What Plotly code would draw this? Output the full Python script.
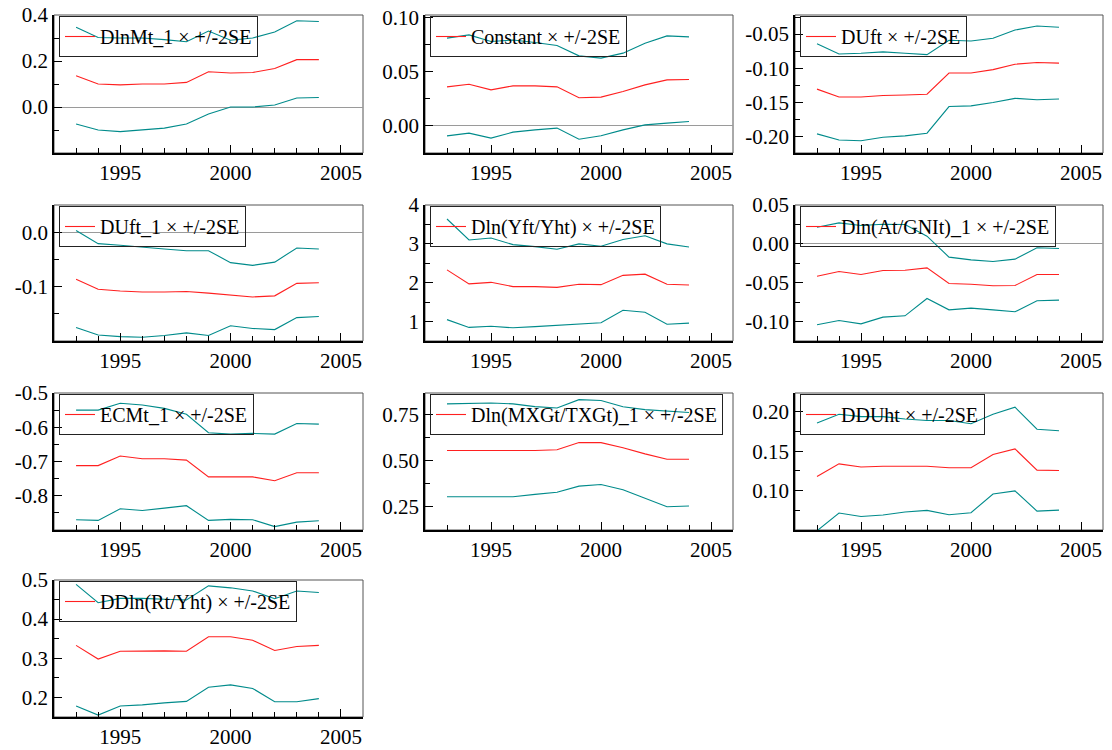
import plotly.graph_objects as go

# recursive coefficient estimates, 1993-2004, with +/-2SE bands
years = list(range(1993, 2005))

dlnmt1_est = [0.136, 0.100, 0.096, 0.100, 0.100, 0.107, 0.153, 0.148, 0.150, 0.167, 0.206, 0.206]
dlnmt1_hi = [0.347, 0.302, 0.300, 0.300, 0.293, 0.284, 0.330, 0.290, 0.300, 0.326, 0.375, 0.372]
dlnmt1_lo = [-0.074, -0.100, -0.107, -0.100, -0.092, -0.074, -0.030, 0.000, 0.000, 0.009, 0.039, 0.041]

const_est = [0.0359, 0.0383, 0.0331, 0.0368, 0.0368, 0.0359, 0.0258, 0.0264, 0.0316, 0.0377, 0.0423, 0.0426]
const_hi = [0.0807, 0.0837, 0.0776, 0.0790, 0.0767, 0.0740, 0.0644, 0.0623, 0.0669, 0.0760, 0.0828, 0.0819]
const_lo = [-0.0092, -0.0067, -0.0113, -0.0058, -0.0037, -0.0021, -0.0123, -0.0092, -0.0037, 0.0009, 0.0025, 0.0040]

duft_est = [-0.1305, -0.142, -0.142, -0.1398, -0.139, -0.138, -0.107, -0.107, -0.102, -0.094, -0.0915, -0.0924]
duft_hi = [-0.064, -0.079, -0.078, -0.076, -0.078, -0.080, -0.059, -0.060, -0.056, -0.044, -0.038, -0.040]
duft_lo = [-0.196, -0.205, -0.206, -0.201, -0.199, -0.195, -0.156, -0.155, -0.150, -0.144, -0.146, -0.145]

duft1_est = [-0.0865, -0.105, -0.108, -0.110, -0.110, -0.109, -0.112, -0.115, -0.119, -0.117, -0.094, -0.093]
duft1_hi = [0.003, -0.021, -0.024, -0.028, -0.031, -0.034, -0.034, -0.056, -0.061, -0.055, -0.029, -0.031]
duft1_lo = [-0.175, -0.189, -0.192, -0.193, -0.190, -0.185, -0.190, -0.172, -0.177, -0.179, -0.157, -0.155]

dlnyf_est = [2.33, 1.97, 2.01, 1.90, 1.90, 1.88, 1.96, 1.95, 2.19, 2.22, 1.96, 1.94]
dlnyf_hi = [3.64, 3.10, 3.15, 2.98, 2.93, 2.86, 3.00, 2.94, 3.11, 3.21, 3.00, 2.92]
dlnyf_lo = [1.05, 0.85, 0.88, 0.84, 0.87, 0.90, 0.93, 0.97, 1.29, 1.24, 0.93, 0.96]

dlnat1_est = [-0.0416, -0.0356, -0.0394, -0.0343, -0.0339, -0.0309, -0.0510, -0.0519, -0.0540, -0.0536, -0.0394, -0.0394]
dlnat1_hi = [0.0214, 0.0270, 0.0236, 0.0253, 0.0249, 0.0099, -0.0171, -0.0206, -0.0227, -0.0197, -0.0051, -0.0060]
dlnat1_lo = [-0.1040, -0.0986, -0.1029, -0.0943, -0.0926, -0.0703, -0.0849, -0.0827, -0.0849, -0.0874, -0.0733, -0.0724]

ecm1_est = [-0.712, -0.712, -0.684, -0.692, -0.692, -0.696, -0.745, -0.745, -0.745, -0.756, -0.733, -0.733]
ecm1_hi = [-0.550, -0.550, -0.530, -0.535, -0.545, -0.562, -0.616, -0.620, -0.618, -0.620, -0.589, -0.591]
ecm1_lo = [-0.870, -0.872, -0.838, -0.843, -0.836, -0.829, -0.872, -0.869, -0.870, -0.890, -0.877, -0.873]

dlnmx1_est = [0.555, 0.555, 0.555, 0.554, 0.555, 0.559, 0.598, 0.598, 0.570, 0.537, 0.508, 0.508]
dlnmx1_hi = [0.808, 0.811, 0.813, 0.808, 0.793, 0.786, 0.831, 0.826, 0.792, 0.777, 0.768, 0.761]
dlnmx1_lo = [0.304, 0.304, 0.304, 0.304, 0.317, 0.329, 0.362, 0.371, 0.342, 0.295, 0.250, 0.254]

dduht_est = [0.118, 0.134, 0.130, 0.131, 0.131, 0.131, 0.129, 0.129, 0.146, 0.153, 0.126, 0.1255]
dduht_hi = [0.186, 0.197, 0.194, 0.194, 0.191, 0.189, 0.189, 0.185, 0.197, 0.206, 0.178, 0.176]
dduht_lo = [0.049, 0.0715, 0.0672, 0.069, 0.0728, 0.0749, 0.0694, 0.072, 0.0957, 0.0996, 0.074, 0.0753]

ddlnr_est = [0.333, 0.298, 0.318, 0.319, 0.319, 0.318, 0.355, 0.355, 0.346, 0.320, 0.330, 0.333]
ddlnr_hi = [0.489, 0.442, 0.453, 0.453, 0.451, 0.449, 0.485, 0.480, 0.472, 0.452, 0.472, 0.468]
ddlnr_lo = [0.178, 0.155, 0.178, 0.181, 0.186, 0.190, 0.226, 0.232, 0.223, 0.189, 0.189, 0.197]

labels = ["DlnMt_1", "Constant", "DUft", "DUft_1", "Dln(Yft/Yht)",
          "Dln(At/GNIt)_1", "ECMt_1", "Dln(MXGt/TXGt)_1", "DDUht", "DDln(Rt/Yht)"]

ytick_vals = [[0.0, 0.2, 0.4], [0.0, 0.05, 0.10], [-0.20, -0.15, -0.10, -0.05],
              [-0.1, 0.0], [1, 2, 3, 4], [-0.10, -0.05, 0.0, 0.05],
              [-0.8, -0.7, -0.6, -0.5], [0.25, 0.50, 0.75], [0.10, 0.15, 0.20],
              [0.2, 0.3, 0.4, 0.5]]
ytick_text = [["0.0", "0.2", "0.4"], ["0.00", "0.05", "0.10"], ["-0.20", "-0.15", "-0.10", "-0.05"],
              ["-0.1", "0.0"], ["1", "2", "3", "4"], ["-0.10", "-0.05", "0.00", "0.05"],
              ["-0.8", "-0.7", "-0.6", "-0.5"], ["0.25", "0.50", "0.75"], ["0.10", "0.15", "0.20"],
              ["0.2", "0.3", "0.4", "0.5"]]

series = [(dlnmt1_est, dlnmt1_hi, dlnmt1_lo), (const_est, const_hi, const_lo),
          (duft_est, duft_hi, duft_lo), (duft1_est, duft1_hi, duft1_lo),
          (dlnyf_est, dlnyf_hi, dlnyf_lo), (dlnat1_est, dlnat1_hi, dlnat1_lo),
          (ecm1_est, ecm1_hi, ecm1_lo), (dlnmx1_est, dlnmx1_hi, dlnmx1_lo),
          (dduht_est, dduht_hi, dduht_lo), (ddlnr_est, ddlnr_hi, ddlnr_lo)]

# page pixels; the html body has an 8px margin, so the figure is shifted by OFF
OFF = 8
W, H = 1112 - OFF, 750 - OFF
cols = [(54, 363), (425, 733), (795, 1103)]
rows = [(15, 153), (205, 341), (393, 530), (580, 717)]
yranges = [[-0.2, 0.4], [-0.025, 0.102], [-0.224, -0.022], [-0.2, 0.05], [0.5, 4.0],
           [-0.125, 0.05], [-0.9, -0.5], [0.124, 0.867], [0.05, 0.224], [0.15, 0.5]]
yminor = [0.1, 0.025, 0.025, 0.05, 0.5, 0.025, 0.05, 0.125, 0.025, 0.05]

FONT = "Liberation Serif"
RED = "#ff2020"
TEAL = "#008b8b"


def px(v):
    return v - OFF


fig = go.Figure()
lay = {}
shapes = []
for i, (est, hi, lo) in enumerate(series):
    r, c = divmod(i, 3)
    sfx = "" if i == 0 else str(i + 1)
    leg = "legend" + sfx
    x0, x1 = cols[c]
    top, bot = rows[r]
    for band in (hi, lo):
        fig.add_trace(go.Scatter(x=years, y=band, mode="lines", line=dict(color=TEAL, width=1.1),
                                 showlegend=False, hoverinfo="skip", xaxis="x" + sfx, yaxis="y" + sfx))
    fig.add_trace(go.Scatter(x=years, y=est, mode="lines", line=dict(color=RED, width=1.1),
                             name=labels[i] + " \u00d7 +/-2SE", legend=leg,
                             xaxis="x" + sfx, yaxis="y" + sfx))
    lay["xaxis" + sfx] = dict(domain=[px(x0) / W, px(x1) / W], anchor="y" + sfx, range=[1992, 2006],
                              tickvals=[1995, 2000, 2005], ticks="inside", ticklen=8,
                              tickcolor="black", showgrid=False, zeroline=False, automargin=False,
                              showline=True, linecolor="black", linewidth=1.5,
                              ticklabeloverflow="allow",
                              minor=dict(dtick=1, tick0=1992, ticks="inside", ticklen=5, tickcolor="black"),
                              tickfont=dict(family=FONT, size=21, color="black"))
    lay["yaxis" + sfx] = dict(domain=[1 - px(bot) / H, 1 - px(top) / H], anchor="x" + sfx,
                              range=yranges[i], tickvals=ytick_vals[i], ticktext=ytick_text[i],
                              ticks="inside", ticklen=8, tickcolor="black", showgrid=False,
                              zeroline=True, zerolinecolor="#9a9a9a", zerolinewidth=1, automargin=False,
                              showline=True, linecolor="black", linewidth=1.5,
                              ticklabeloverflow="allow",
                              minor=dict(dtick=yminor[i], tick0=0, ticks="inside", ticklen=5, tickcolor="black"),
                              tickfont=dict(family=FONT, size=21, color="black"))
    lay[leg] = dict(x=px(x0 + 5) / W, y=1 - px(top + 1) / H, xanchor="left", yanchor="top",
                    bgcolor="rgba(0,0,0,0)", bordercolor="#222", borderwidth=1,
                    font=dict(family=FONT, size=20, color="black"))
    shapes.append(dict(type="rect", xref="x" + sfx + " domain", yref="y" + sfx + " domain",
                       x0=0, x1=1, y0=0, y1=1, line=dict(color="#555", width=1), layer="below"))

fig.update_layout(**lay)
fig.update_layout(shapes=shapes, width=W, height=H, autosize=False,
                  margin=dict(l=0, r=0, t=0, b=0, autoexpand=False),
                  paper_bgcolor="white", plot_bgcolor="white",
                  font=dict(family=FONT, color="black"))
fig.write_html("out.html")
